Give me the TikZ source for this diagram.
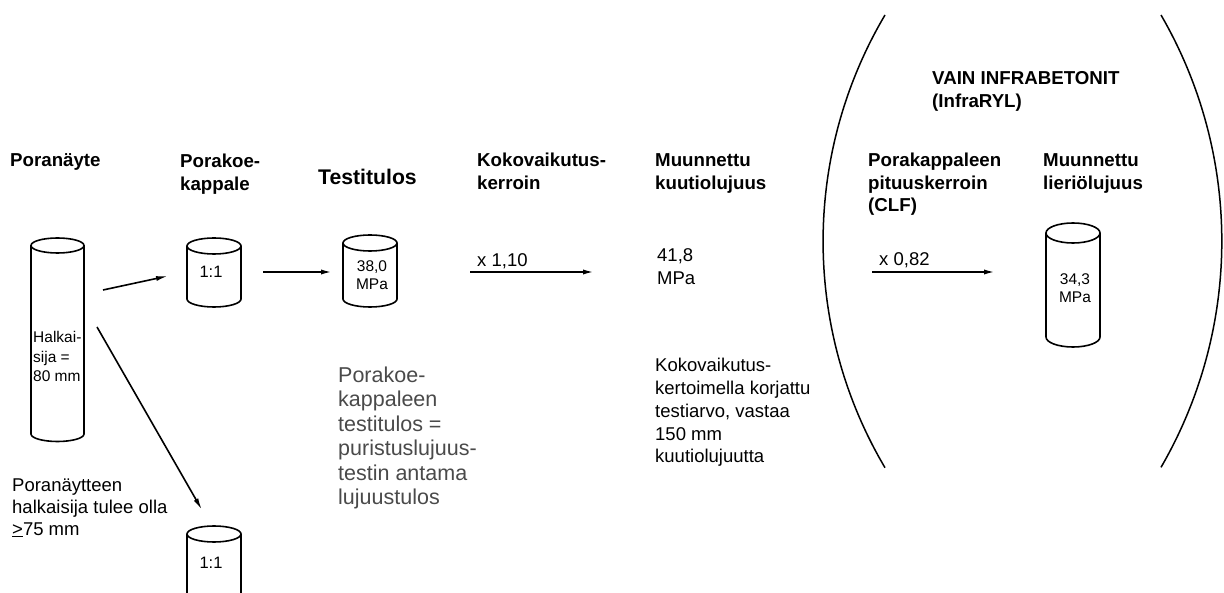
\documentclass[tikz,border=0pt]{standalone}
\usepackage{fontspec}
\setmainfont{Liberation Sans}
\usetikzlibrary{arrows.meta,calc}
\definecolor{graytext}{HTML}{4A4A4A}
\tikzset{
  head/.style={font=\fontsize{18.7}{22.5}\selectfont\bfseries, align=left, anchor=base west, inner sep=0pt},
  txt/.style={font=\fontsize{18.5}{22.5}\selectfont, align=left, anchor=base west, inner sep=0pt},
  ctxt/.style={font=\fontsize{15.5}{18}\selectfont, align=center, anchor=base, inner sep=0pt},
  cyl/.style={line width=1.6pt},
  arr/.style={line width=2pt, -{Latex[length=12pt,width=5pt]}},
  paren/.style={line width=1.5pt}
}
\newcommand\mycyl[6]{%
  \coordinate (#1-t) at (#2,#3);
  \coordinate (#1-b) at (#2,#4);
  \draw[cyl] (#1-t) ellipse[x radius=#5, y radius=#6];
  \draw[cyl] ($(#1-t)+(-#5,0)$) -- ($(#1-b)+(-#5,0)$)
     arc[start angle=180, end angle=0, x radius=#5, y radius=#6] -- ($(#1-t)+(#5,0)$);
}
\begin{document}
\begin{tikzpicture}[x=1pt,y=-1pt]
\useasboundingbox[fill=white] (0,0) rectangle (1224,593);

% headings (multi-line nodes: base = last line baseline)
\node[head] (h1) at (10,167) {Poranäyte};
\node[head] (h2) at (180,190.5) {Porakoe-\\kappale};
\node[head, font=\fontsize{21.2}{25}\selectfont\bfseries] (h3) at (318,185) {Testitulos};
\node[head] (h4) at (477,189.5) {Kokovaikutus-\\kerroin};
\node[head] (h5) at (655,189.5) {Muunnettu\\kuutiolujuus};
\node[head] (h6) at (868,212) {Porakappaleen\\pituuskerroin\\(CLF)};
\node[head] (h7) at (1043,189.5) {Muunnettu\\lieriölujuus};
\node[head] (h8) at (932,107.5) {VAIN INFRABETONIT\\(InfraRYL)};

% cylinders
\mycyl{pora}{57.5}{245.5}{434}{26.5}{7.5}
\mycyl{kap1}{214}{246}{299}{27}{8}
\mycyl{kap2}{214}{534}{600}{27}{8}
\mycyl{test}{370}{243}{299}{27}{8}
\mycyl{lier}{1073}{233}{337}{27}{10}

% cylinder texts
\node[ctxt, anchor=base west, align=left, font=\fontsize{15.5}{19.5}\selectfont] (halk) at (33,382) {Halkai-\\sija =\\80 mm};
\node[ctxt, font=\fontsize{16.5}{18}\selectfont] (t1) at (211,278) {1:1};
\node[ctxt, font=\fontsize{16.5}{18}\selectfont] (t2) at (211,568) {1:1};
\node[ctxt] (t3) at (372,290) {38,0\\MPa};
\node[ctxt] (t4) at (1075,303) {34,3\\MPa};

% arrows
\coordinate (a1s) at (103,290); \coordinate (a1e) at (168,276);
\coordinate (a2s) at (97,327);  \coordinate (a2e) at (202,510);
\coordinate (a3s) at (263,272); \coordinate (a3e) at (333,272);
\coordinate (a4s) at (470,272); \coordinate (a4e) at (595,272);
\coordinate (a5s) at (872,272); \coordinate (a5e) at (996,272);
\draw[arr, line width=1.6pt] (a1s) -- (a1e);
\draw[arr, line width=1.6pt] (a2s) -- (a2e);
\draw[arr] (a3s) -- (a3e);
\draw[arr] (a4s) -- (a4e);
\draw[arr] (a5s) -- (a5e);

% labels
\node[txt] (x1) at (477,267) {x 1,10};
\node[txt] (x2) at (879,266) {x 0,82};
\node[txt, font=\fontsize{18.5}{23}\selectfont] (v1) at (657,285) {41,8\\MPa};

% descriptions
\node[txt, font=\fontsize{18.5}{22}\selectfont] (d1) at (12,535) {Poranäytteen\\halkaisija tulee olla\\\underline{>}75 mm};
\node[txt, font=\fontsize{21.5}{24.5}\selectfont, text=graytext] (d2) at (338,504.5) {Porakoe-\\kappaleen\\testitulos =\\puristuslujuus-\\testin antama\\lujuustulos};
\node[txt, font=\fontsize{18.5}{22.7}\selectfont] (d3) at (655,462.8) {Kokovaikutus-\\kertoimella korjattu\\testiarvo, vastaa\\150 mm\\kuutiolujuutta};

% parentheses
\draw[paren] (885,15) arc[start angle=210.6, end angle=149.4, radius=444.7];
\draw[paren] (1161,15) arc[start angle=-30.1, end angle=30.1, radius=451];
\end{tikzpicture}
\end{document}
